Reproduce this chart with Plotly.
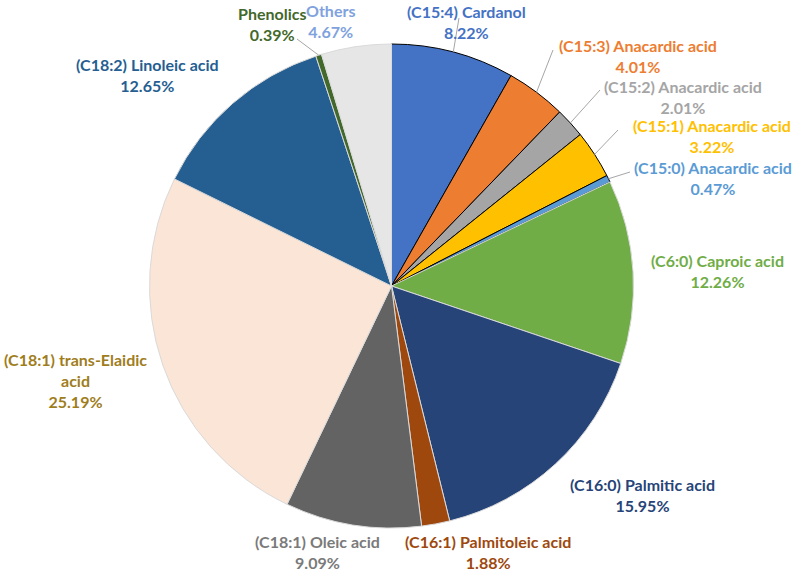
import math
import plotly.graph_objects as go

# ---- data ----
labels = [
    "(C15:4) Cardanol", "(C15:3) Anacardic acid", "(C15:2) Anacardic acid",
    "(C15:1) Anacardic acid", "(C15:0) Anacardic acid", "(C6:0) Caproic acid",
    "(C16:0) Palmitic acid", "(C16:1) Palmitoleic acid", "(C18:1) Oleic acid",
    "(C18:1) trans-Elaidic<br>acid", "(C18:2) Linoleic acid", "Phenolics", "Others",
]
values = [8.22, 4.01, 2.01, 3.22, 0.47, 12.26, 15.95, 1.88, 9.09, 25.19, 12.65, 0.39, 4.67]

# ---- styles ----
slice_colors = ["#4472C4", "#ED7D31", "#A5A5A5", "#FFC000", "#5B9BD5", "#70AD47",
                "#264478", "#9E480E", "#636363", "#FBE5D6", "#255E91", "#43682B", "#E7E6E6"]
text_colors = ["#4472C4", "#ED7D31", "#A5A5A5", "#FFC000", "#5B9BD5", "#70AD47",
               "#264478", "#9E480E", "#7A7A7A", "#A07D1C", "#255E91", "#43682B", "#7FA2DE"]
border_colors = ["#000000"] * 5 + ["#DADADA"] * 8

W, H = 796, 572
CX, CY, R = 391.5, 286.0, 242.0

# label text centers (pixels) and leader-line start points (None = no leader)
label_pos = [(466, 22), (638, 56), (683, 97), (712, 136), (713, 178), (717, 271),
             (642, 495), (488, 552), (317, 552), (75, 380), (147, 75), (272, 24), (330, 21)]
leader_start = [(459, 18), (553, 50), (600, 90), (618, 130), (630, 172), None,
                None, None, None, None, None, (297, 39), None]

def px2paper(x, y):
    return x / W, 1 - y / H

fig = go.Figure(go.Pie(
    labels=labels, values=values, sort=False, direction="clockwise", rotation=0,
    marker=dict(colors=slice_colors, line=dict(color=border_colors, width=1)),
    textinfo="none", hoverinfo="label+value", showlegend=False,
    domain=dict(x=[(CX - R) / W, (CX + R) / W], y=[1 - (CY + R) / H, 1 - (CY - R) / H]),
))

total = sum(values)
cum = 0.0
annotations = []
shapes = []
for lab, v, tc, pos, ls in zip(labels, values, text_colors, label_pos, leader_start):
    mid = (cum + v / 2) / total * 2 * math.pi
    cum += v
    pct = f"{v / total * 100:.2f}%"
    x, y = px2paper(*pos)
    annotations.append(dict(
        x=x, y=y, xref="paper", yref="paper", text=f"{lab}<br>{pct}", showarrow=False,
        align="center", xanchor="center", yanchor="middle",
        font=dict(family="Lato", size=16, color=tc, weight="bold"),
    ))
    if ls is not None:
        ex, ey = CX + R * math.sin(mid), CY - R * math.cos(mid)
        x0, y0 = px2paper(*ls)
        x1, y1 = px2paper(ex, ey)
        shapes.append(dict(type="line", xref="paper", yref="paper", x0=x0, y0=y0, x1=x1, y1=y1,
                           line=dict(color="#A6A6A6", width=1)))

fig.update_layout(
    width=W, height=H, margin=dict(l=0, r=0, t=0, b=0),
    paper_bgcolor="white", plot_bgcolor="white",
    annotations=annotations, shapes=shapes,
)
fig.write_html("out.html", config={"displayModeBar": False},
               post_script="document.body.style.margin='0';")
